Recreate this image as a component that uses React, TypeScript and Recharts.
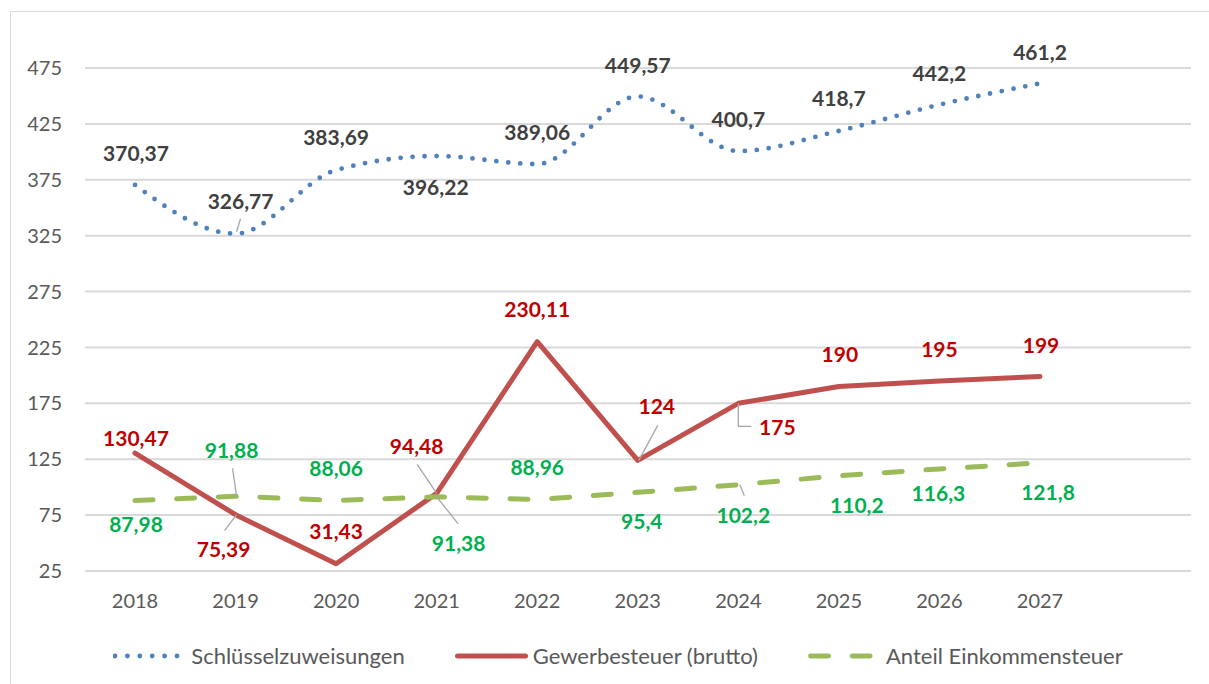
import { LineChart, Line, XAxis, YAxis, CartesianGrid, Legend, LabelList } from "recharts";

const years = ["2018", "2019", "2020", "2021", "2022", "2023", "2024", "2025", "2026", "2027"];
const schluessel = [370.37, 326.77, 383.69, 396.22, 389.06, 449.57, 400.7, 418.7, 442.2, 461.2];
const gewerbe = [130.47, 75.39, 31.43, 94.48, 230.11, 124, 175, 190, 195, 199];
const einkommen = [87.98, 91.88, 88.06, 91.38, 88.96, 95.4, 102.2, 110.2, 116.3, 121.8];
const yTicks = [25, 75, 125, 175, 225, 275, 325, 375, 425, 475];

const data = years.map((year, i) => ({
  year,
  schluessel: schluessel[i],
  gewerbe: gewerbe[i],
  einkommen: einkommen[i],
}));

const FONT = "Lato, 'Open Sans', sans-serif";
const BLUE = "#4F81BD";
const RED = "#C0504D";
const GREEN = "#9BBB59";

// label placement (offset of text centre from the point), like the hand-moved Excel labels
const blueLabelPos = [[1, -32], [5, -32], [0, -33], [-1, 31], [0, -32], [0, -31], [0, -32], [0, -32], [0, -31], [0, -31]];
const redLabelPos = [[1, -15], [-12, 35], [0, -32], [-20, -47], [0, -32], [19, -54], [39, 24], [1, -32], [0, -32], [1, -31]];
const greenLabelPos = [[1, 24], [-4, -46], [0, -32], [22, 47], [0, -32], [4, 29], [5, 31], [18, 30], [-1, 24], [8, 30]];

// leader lines, relative to the point
const blueLeaders: Record<number, number[][]> = { 1: [[5, -15], [1, -2]] };
const redLeaders: Record<number, number[][]> = {
  1: [[1, 0], [-11, 16]],
  3: [[-19.5, -29], [0, 0]],
  5: [[20, -35], [1, 0]],
  6: [[0, 0], [0, 23], [13, 23]],
};
const greenLeaders: Record<number, number[][]> = {
  1: [[-3, -28], [1, 0]],
  3: [[0, 0], [21.5, 27]],
  6: [[1.5, 0], [6, 11]],
};

const fmt = (v: number) => String(v).replace(".", ",");

function makeLabel(color: string, pos: number[][], leaders: Record<number, number[][]>) {
  return (props: any) => {
    const { x, y, value, index } = props;
    if (x == null || y == null || value == null) return null;
    const [dx, dy] = pos[index];
    const lead = leaders[index];
    return (
      <g>
        {lead && (
          <polyline
            points={lead.map(([a, b]) => `${x + a},${y + b}`).join(" ")}
            fill="none"
            stroke="#A6A6A6"
            strokeWidth={1.3}
          />
        )}
        <text
          x={x + dx}
          y={y + dy}
          dy="0.36em"
          textAnchor="middle"
          fill={color}
          fontSize={21}
          fontWeight={700}
          fontFamily={FONT}
        >
          {fmt(value)}
        </text>
      </g>
    );
  };
}

const legendItems = [
  { name: "Schlüsselzuweisungen", color: BLUE, dash: "0 12.4", x1: 2, x2: 66 },
  { name: "Gewerbesteuer (brutto)", color: RED, dash: undefined, x1: 2.5, x2: 70.5 },
  { name: "Anteil Einkommensteuer", color: GREEN, dash: "18 23.7", x1: 2.5, x2: 70.5 },
];

function LegendContent() {
  return (
    <div
      style={{
        height: 40,
        display: "flex",
        justifyContent: "center",
        gap: 50,
        paddingLeft: 34,
        fontFamily: FONT,
        fontSize: 22,
        color: "#595959",
        lineHeight: "24px",
      }}
    >
      {legendItems.map((it) => (
        <div key={it.name} style={{ display: "flex", alignItems: "center", height: 24 }}>
          <svg width={73} height={12} style={{ marginRight: 5 }}>
            <line
              x1={it.x1}
              y1={6}
              x2={it.x2}
              y2={6}
              stroke={it.color}
              strokeWidth={it.dash === undefined ? 5 : 4.8}
              strokeLinecap="round"
              strokeDasharray={it.dash}
            />
          </svg>
          <span>{it.name}</span>
        </div>
      ))}
    </div>
  );
}

export default function App() {
  return (
    <div
      style={{
        position: "absolute",
        left: 10,
        top: 11,
        width: 1199,
        height: 673,
        boxSizing: "border-box",
        borderTop: "1px solid #D9D9D9",
        borderLeft: "1px solid #D9D9D9",
        background: "#fff",
      }}
    >
      <LineChart width={1198} height={672} data={data} margin={{ top: 56, right: 18, left: 0, bottom: 0 }}>
        <CartesianGrid vertical={false} stroke="#D9D9D9" strokeWidth={2} />
        <XAxis
          dataKey="year"
          axisLine={false}
          tickLine={false}
          tickSize={0}
          tickMargin={23}
          height={73}
          padding={{ left: 50, right: 151 }}
          tick={{ fill: "#595959", fontSize: 20, fontFamily: FONT }}
          interval={0}
        />
        <YAxis
          domain={[25, 475]}
          ticks={yTicks}
          width={74}
          axisLine={false}
          tickLine={false}
          tickSize={0}
          tickMargin={23}
          tick={{ fill: "#595959", fontSize: 20, fontFamily: FONT }}
        />
        <Legend verticalAlign="bottom" height={40} content={<LegendContent />} />
        <Line
          type="monotone"
          dataKey="schluessel"
          name="Schlüsselzuweisungen"
          stroke={BLUE}
          strokeWidth={4.8}
          strokeDasharray="0 12"
          strokeLinecap="round"
          dot={false}
          activeDot={false}
          isAnimationActive={false}
        >
          <LabelList dataKey="schluessel" content={makeLabel("#404040", blueLabelPos, blueLeaders)} />
        </Line>
        <Line
          type="linear"
          dataKey="gewerbe"
          name="Gewerbesteuer (brutto)"
          stroke={RED}
          strokeWidth={5}
          strokeLinecap="round"
          strokeLinejoin="round"
          dot={false}
          activeDot={false}
          isAnimationActive={false}
        >
          <LabelList dataKey="gewerbe" content={makeLabel("#C00000", redLabelPos, redLeaders)} />
        </Line>
        <Line
          type="linear"
          dataKey="einkommen"
          name="Anteil Einkommensteuer"
          stroke={GREEN}
          strokeWidth={5}
          strokeDasharray="18 23.7"
          strokeLinecap="round"
          dot={false}
          activeDot={false}
          isAnimationActive={false}
        >
          <LabelList dataKey="einkommen" content={makeLabel("#00B050", greenLabelPos, greenLeaders)} />
        </Line>
      </LineChart>
    </div>
  );
}
